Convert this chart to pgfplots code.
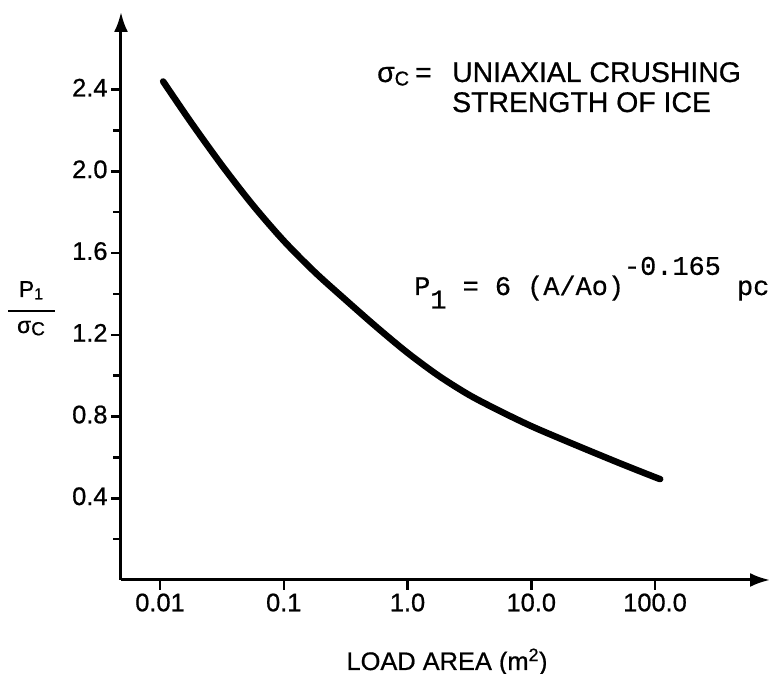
\documentclass[border=0pt]{standalone}
\usepackage{fontspec}
\setmainfont[FakeBold=0.7]{Liberation Sans}
\newfontfamily\eqfont[FakeBold=0.5]{Liberation Mono}
\usepackage{pgfplots}
\pgfplotsset{compat=1.18}
\usetikzlibrary{arrows.meta}

\begin{document}
\begin{tikzpicture}[x=1bp,y=1bp]
\path[use as bounding box] (0,0) rectangle (777,674);
\begin{axis}[
  at={(121bp,94bp)}, anchor=south west,
  scale only axis, width=649bp, height=568bp,
  xmode=log, xmin=0.00484, xmax=849, ymin=0, ymax=2.78,
  axis lines=left,
  axis line style={line width=3bp, -{Latex[length=20bp,width=14bp]}},
  xtick={0.01,0.1,1,10,100}, xticklabels={0.01,0.1,1.0,10.0,100.0},
  xminorticks=false,
  ytick={0.4,0.8,1.2,1.6,2.0,2.4}, yticklabels={0.4,0.8,1.2,1.6,2.0,2.4},
  minor ytick={0.2,0.6,1.0,1.4,1.8,2.2},
  tick align=outside,
  major tick length=10bp, minor tick length=8bp,
  major tick style={black, line width=2.5bp},
  minor tick style={black, line width=2.5bp},
  tick label style={font=\fontsize{25.5}{30}\selectfont},
  yticklabel style={yshift=2bp},
  /pgf/number format/assume math mode=true,
  clip=false,
]
% load-area curve: P1/sigma_c against contact area
\addplot[black, line width=6.5bp, smooth, tension=0.5, line cap=round] coordinates {
  (0.0106,2.44) (0.0178,2.24) (0.0316,2.03) (0.0562,1.835) (0.1,1.66)
  (0.178,1.507) (0.316,1.371) (0.562,1.238) (1,1.112) (1.78,1.0)
  (3.16,0.905) (5.62,0.826) (10,0.753) (17.8,0.688) (31.6,0.625)
  (56.2,0.563) (100,0.503) (110,0.494)
};
\end{axis}

% axis titles
\node[anchor=base, inner sep=0, font=\fontsize{25.5}{30}\selectfont] at (447,4) {LOAD AREA (m\textsuperscript{2})};
\node[anchor=base, inner sep=0, font=\fontsize{23}{26}\selectfont] at (31,377) {P\raisebox{-0.1em}{\fontsize{16}{18}\selectfont 1}};
\draw[line width=2.5bp] (8,363) -- (55,363);
\node[anchor=base, inner sep=0, font=\fontsize{23}{26}\selectfont] at (31,341) {σ\raisebox{-0.1em}{\fontsize{19}{20}\selectfont C}};

% legend text
\node[anchor=base west, inner sep=0, font=\fontsize{28.5}{30}\selectfont] at (377,592) {σ\raisebox{-0.12em}{\fontsize{20}{22}\selectfont C}};
\node[anchor=base west, inner sep=0, font=\fontsize{28.5}{30}\selectfont] at (415,592) {=};
\node[anchor=base west, inner sep=0, font=\fontsize{28.5}{30}\selectfont] at (452,592) {UNIAXIAL CRUSHING};
\node[anchor=base west, inner sep=0, font=\fontsize{28.5}{30}\selectfont] at (452,562) {STRENGTH OF ICE};

% fitted relation
\node[anchor=base west, inner sep=0, font=\eqfont\fontsize{27}{30}\selectfont] at (414,379)
  {P\raisebox{-0.5em}{1} = 6 (A/Ao)\raisebox{0.75em}{-0.165} pc};
\end{tikzpicture}
\end{document}
